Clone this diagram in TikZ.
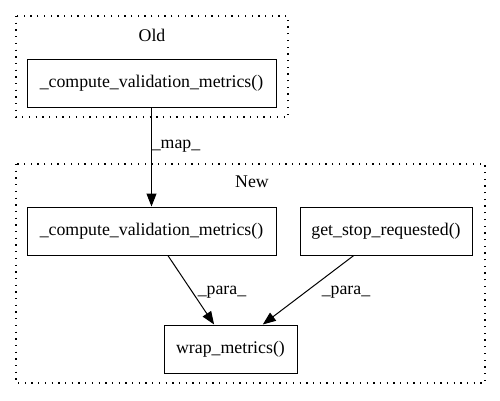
\documentclass[tikz,border=0pt]{standalone}
\usepackage{fontspec}
\setmainfont{Liberation Serif}
\usetikzlibrary{arrows.meta}
\tikzset{
    every node/.style={font=\fontsize{17.8}{20}\selectfont, inner sep=0pt}
}
\tikzset{
    fn/.style={rectangle, draw, minimum height=48pt, line width=1pt}
}
\tikzset{
    every edge/.append style={-{Triangle[length=13pt,width=10pt]}, line width=1pt}
}
\tikzset{
    cluster/.style={draw, line width=1.3pt, dash pattern=on 1.3pt off 5.4pt}
}

\begin{document}
\begin{tikzpicture}[x=1pt, y=-1pt]
	\useasboundingbox (0,0) rectangle (500,400);
	% clusters
	\draw[cluster] (16,16) rectangle (288,117);
	\draw[cluster] (16,164) rectangle (485,383);
	\node (old) at (152,35) {Old};
	\node (new) at (252,182) {New};

	\node (1) [fn, minimum width=249pt] at (151.5,83) {\_compute\_validation\_metrics()};
	\node (2) [fn, minimum width=249pt] at (151.5,231) {\_compute\_validation\_metrics()};
	\node (3) [fn, minimum width=172pt] at (386,231) {get\_stop\_requested()};
	\node (4) [fn, minimum width=133pt] at (230.5,349) {wrap\_metrics()};

	\node (m) at (176,146) {\_map\_};
	\node (p1) at (222,292) {\_para\_};
	\node (p2) at (346,292) {\_para\_};

	\draw (1) edge (2);
	\draw (2) edge (4); \draw (3) edge (4);
\end{tikzpicture}
\end{document}
